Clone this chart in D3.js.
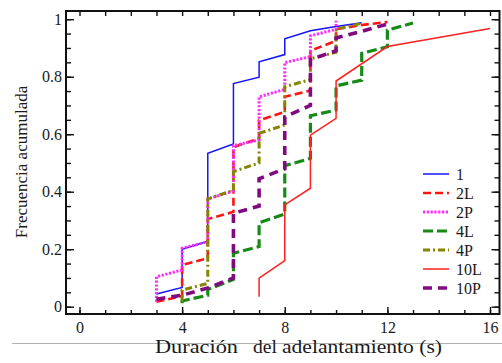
<!DOCTYPE html>
<html>
<head>
<meta charset="utf-8">
<script src="https://cdn.jsdelivr.net/npm/d3@7"></script>
<style>
  body { margin: 0; background: #fff; }
  svg { display: block; }
  text { font-family: "Liberation Serif", "Times New Roman", serif; fill: #1a1a1a; }
</style>
</head>
<body>
<div id="chart"></div>
<script>
// Curvas: [duracion (s), frecuencia acumulada]
var serie1   = [[3,0.044],[4,0.067],[4,0.20],[5,0.228],[5,0.534],[6,0.566],[6,0.776],[7,0.798],[7,0.852],[8,0.877],[8,0.932],[9,0.96],[10,0.975],[11,0.988]];
var serie2L  = [[3,0.017],[4,0.037],[4,0.145],[5,0.168],[5,0.305],[6,0.33],[6,0.555],[7,0.585],[7,0.648],[8,0.678],[8,0.73],[9,0.752],[9,0.89],[10,0.925],[10,0.965],[11,0.98],[12,0.99]];
var serie2P  = [[3,0.017],[3,0.104],[4,0.128],[4,0.203],[5,0.226],[5,0.375],[6,0.402],[6,0.56],[7,0.58],[7,0.73],[8,0.756],[8,0.849],[9,0.87],[9,0.942],[10,0.965],[10,0.995]];
var serie4L  = [[4,0.012],[4,0.02],[5,0.04],[5,0.06],[6,0.095],[6,0.186],[7,0.209],[7,0.292],[8,0.322],[8,0.49],[9,0.516],[9,0.664],[10,0.684],[10,0.768],[11,0.788],[11,0.881],[12,0.904],[12,0.962],[13,0.987]];
var serie4P  = [[4,0.017],[4,0.058],[5,0.081],[5,0.375],[6,0.405],[6,0.47],[7,0.5],[7,0.603],[8,0.632],[8,0.765],[9,0.79],[9,0.862],[10,0.885],[10,0.965],[11,0.986]];
var serie10L = [[7,0.035],[7,0.099],[8,0.16],[8,0.354],[9,0.412],[9,0.597],[10,0.655],[10,0.785],[12,0.905],[16,0.968]];
var serie10P = [[3,0.026],[4,0.04],[5,0.065],[6,0.1],[6,0.325],[7,0.35],[7,0.445],[8,0.48],[8,0.66],[9,0.70],[9,0.86],[10,0.89],[10,0.935],[11,0.958],[12,0.983]];

var names = ["1", "2L", "2P", "4L", "4P", "10L", "10P"];
var seriesData = [serie1, serie2L, serie2P, serie4L, serie4P, serie10L, serie10P];

var xTicks = [0, 4, 8, 12, 16];
var yTicks = [0, 0.2, 0.4, 0.6, 0.8, 1];
var yTickLabels = ["0", "0.2", "0.4", "0.6", "0.8", "1"];

// estilos de linea
var colors = ["#1414ff", "#ff1414", "#ff2cff", "#168a16", "#858500", "#ff2020", "#800a80"];
var widths = [1.5, 2.6, 3, 3.2, 3, 1.5, 3.6];
var dashes = [null, "8,4", "2.2,1.6", "10,4", "7,3,2,3", null, "9,6"];

var width = 502, height = 363;
var frame = {left: 66, right: 499.5, top: 11, bottom: 314};

var svg = d3.select("#chart").append("svg")
  .attr("width", width)
  .attr("height", height);

var x = d3.scaleLinear().domain([0, 16]).range([79.5, 490]);
var y = d3.scaleLinear().domain([0, 1]).range([306.7, 19.2]);

// ticks menores (cada 1 s y cada 0.05)
var xMinor = d3.range(0, 17, 1);
var yMinor = d3.range(0, 1.001, 0.05);

function noLabels(g) { g.selectAll("text").remove(); g.select(".domain").remove(); }

svg.append("g").attr("transform", "translate(0," + frame.bottom + ")")
  .call(d3.axisBottom(x).tickValues(xMinor).tickSize(-4)).call(noLabels);
svg.append("g").attr("transform", "translate(0," + frame.top + ")")
  .call(d3.axisTop(x).tickValues(xMinor).tickSize(-5)).call(noLabels);
svg.append("g").attr("transform", "translate(" + frame.left + ",0)")
  .call(d3.axisLeft(y).tickValues(yMinor).tickSize(-5)).call(noLabels);
svg.append("g").attr("transform", "translate(" + frame.right + ",0)")
  .call(d3.axisRight(y).tickValues(yMinor).tickSize(-5)).call(noLabels);

var xAxis = svg.append("g").attr("transform", "translate(0," + frame.bottom + ")")
  .call(d3.axisBottom(x).tickValues(xTicks).tickSize(-7).tickPadding(8).tickFormat(d3.format("d")));
var yAxis = svg.append("g").attr("transform", "translate(" + frame.left + ",0)")
  .call(d3.axisLeft(y).tickValues(yTicks).tickSize(-8).tickPadding(4)
    .tickFormat(function(d, i) { return yTickLabels[i]; }));
svg.append("g").attr("transform", "translate(" + frame.right + ",0)")
  .call(d3.axisRight(y).tickValues(yTicks).tickSize(-8)).call(noLabels);

[xAxis, yAxis].forEach(function(g) {
  g.select(".domain").remove();
  g.selectAll("text").style("font-family", "Liberation Serif").style("font-size", "16px").attr("fill", "#1a1a1a");
});
svg.selectAll(".tick line").attr("stroke", "#111").attr("stroke-width", 1.4);

// marco
svg.append("rect")
  .attr("x", frame.left).attr("y", frame.top)
  .attr("width", frame.right - frame.left).attr("height", frame.bottom - frame.top)
  .attr("fill", "none").attr("stroke", "#111").attr("stroke-width", 2);

// curvas
var line = d3.line().x(function(d) { return x(d[0]); }).y(function(d) { return y(d[1]); });
var plot = svg.append("g");
seriesData.forEach(function(s, i) {
  plot.append("path")
    .attr("d", line(s))
    .attr("fill", "none")
    .attr("stroke", colors[i])
    .attr("stroke-width", widths[i])
    .attr("stroke-dasharray", dashes[i])
    .attr("stroke-linejoin", "miter");
});

// leyenda
var legend = svg.append("g").attr("transform", "translate(423,174)");
names.forEach(function(n, i) {
  var row = legend.append("g").attr("transform", "translate(0," + (i * 19) + ")");
  row.append("line")
    .attr("x1", 0).attr("x2", 26).attr("y1", 0).attr("y2", 0)
    .attr("stroke", colors[i])
    .attr("stroke-width", widths[i])
    .attr("stroke-dasharray", dashes[i]);
  row.append("text")
    .attr("x", 33).attr("y", 5.5)
    .style("font-size", "16px")
    .text(n);
});

// titulos
svg.append("text")
  .attr("transform", "translate(27,162) rotate(-90)")
  .attr("text-anchor", "middle")
  .style("font-size", "17px")
  .text("Frecuencia acumulada");

svg.append("line")
  .attr("x1", 12).attr("x2", width).attr("y1", 343.5).attr("y2", 343.5)
  .attr("stroke", "#b0b0b0").attr("stroke-width", 1);

// el titulo del eje x va algo estirado en horizontal, como en el original
[["Duración", 155, 83, 19], ["del", 253, 24, 19], ["adelantamiento (s)", 282, 160, 18]].forEach(function(t) {
  svg.append("text")
    .attr("x", t[1]).attr("y", 353)
    .attr("textLength", t[2])
    .attr("lengthAdjust", "spacingAndGlyphs")
    .style("font-size", t[3] + "px")
    .text(t[0]);
});
</script>
</body>
</html>
